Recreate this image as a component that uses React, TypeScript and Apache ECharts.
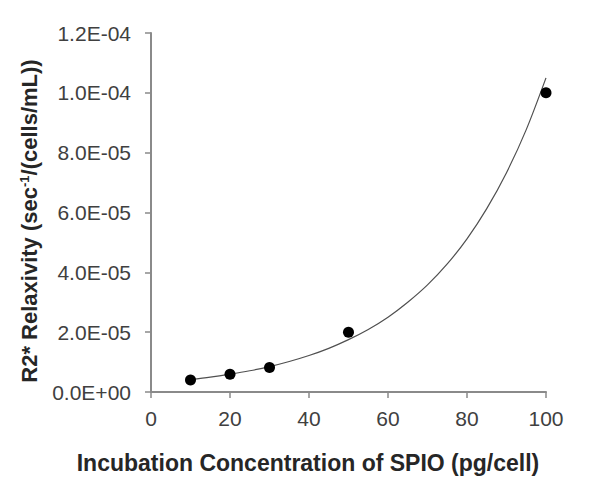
import React, { useEffect, useRef } from "react";
import * as echarts from "echarts";

// Measured points
const concentrations = [10, 20, 30, 50, 100];
const relaxivity = [4.0e-6, 5.9e-6, 8.2e-6, 2.0e-5, 1.0e-4];

// Trendline (exponential fit)
const trendX = [10, 15, 20, 25, 30, 35, 40, 45, 50, 55, 60, 65, 70, 75, 80, 85, 90, 95, 100];
const trendY = [
  4.15e-6, 4.95e-6, 5.95e-6, 7.1e-6, 8.5e-6, 1.02e-5, 1.22e-5, 1.46e-5, 1.75e-5, 2.09e-5,
  2.5e-5, 3.0e-5, 3.58e-5, 4.28e-5, 5.12e-5, 6.13e-5, 7.33e-5, 8.77e-5, 1.05e-4,
];

const yTickLabels = ["0.0E+00", "2.0E-05", "4.0E-05", "6.0E-05", "8.0E-05", "1.0E-04", "1.2E-04"];
const xTickLabels = ["0", "20", "40", "60", "80", "100"];

const xTitle = "Incubation Concentration of SPIO (pg/cell)";

export default function App() {
  const ref = useRef<HTMLDivElement>(null);
  useEffect(() => {
    if (!ref.current) return;
    const chart = echarts.init(ref.current, undefined, { renderer: "svg" });
    const font = "Liberation Sans, Arial, sans-serif";
    const axisColor = "#8a8a8a";
    chart.setOption({
      animation: false,
      backgroundColor: "#ffffff",
      grid: { left: 151, right: 54, top: 33, bottom: 106, containLabel: false },
      xAxis: {
        type: "value",
        min: 0,
        max: 100,
        interval: 20,
        axisLine: { show: true, lineStyle: { color: axisColor, width: 2 } },
        axisTick: { show: true, length: 6, lineStyle: { color: axisColor, width: 1.5 } },
        splitLine: { show: false },
        axisLabel: {
          margin: 16,
          fontFamily: font,
          fontSize: 21,
          color: "#404040",
          formatter: (_v: number, i: number) => xTickLabels[i] ?? "",
        },
      },
      yAxis: {
        type: "value",
        min: 0,
        max: 1.2e-4,
        interval: 2e-5,
        axisLine: { show: true, lineStyle: { color: axisColor, width: 2 } },
        axisTick: { show: true, length: 6, lineStyle: { color: axisColor, width: 1.5 } },
        splitLine: { show: false },
        axisLabel: {
          margin: 20,
          fontFamily: font,
          fontSize: 21,
          color: "#404040",
          formatter: (_v: number, i: number) => yTickLabels[i] ?? "",
        },
      },
      graphic: [
        {
          type: "text",
          x: 308,
          y: 463,
          style: {
            text: xTitle,
            fontFamily: font,
            fontSize: 23,
            fontWeight: "bold",
            fill: "#262626",
            textAlign: "center",
            textVerticalAlign: "middle",
          },
        },
        {
          type: "text",
          x: 29,
          y: 221,
          rotation: Math.PI / 2,
          style: {
            text: "R2* Relaxivity (sec{sup|-1}/(cells/mL))",
            fontFamily: font,
            fontSize: 22,
            fontWeight: "bold",
            fill: "#262626",
            textAlign: "center",
            textVerticalAlign: "middle",
            rich: {
              sup: {
                fontFamily: font,
                fontSize: 13,
                fontWeight: "bold",
                fill: "#262626",
                verticalAlign: "top",
                padding: [0, 0, 10, 0],
              },
            },
          },
        },
      ],
      series: [
        {
          type: "line",
          data: trendX.map((x, i) => [x, trendY[i]]),
          smooth: 0.3,
          showSymbol: false,
          lineStyle: { color: "#505050", width: 1.2 },
          z: 1,
        },
        {
          type: "scatter",
          data: concentrations.map((x, i) => [x, relaxivity[i]]),
          symbol: "circle",
          symbolSize: 11,
          itemStyle: { color: "#000000", opacity: 1 },
          z: 2,
        },
      ],
    });
    return () => chart.dispose();
  }, []);
  return (
    <div
      ref={ref}
      style={{ position: "absolute", left: 0, top: 0, width: 600, height: 498 }}
    />
  );
}
